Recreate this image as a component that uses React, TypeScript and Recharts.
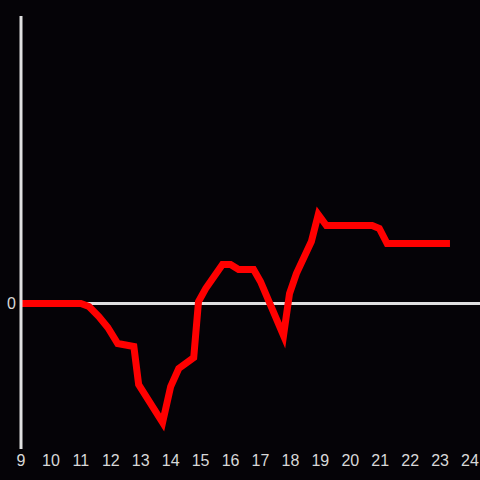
import React from 'react';
import { LineChart, Line, XAxis, YAxis, ReferenceLine } from 'recharts';

const hours = [9.0, 11.0, 11.27, 11.6, 11.9, 12.23, 12.77, 12.93, 13.73, 14.0, 14.27, 14.77, 14.93, 15.17, 15.73, 16.0, 16.27, 16.77, 17.0, 17.77, 17.97, 18.2, 18.7, 18.93, 19.2, 20.73, 20.97, 21.23, 23.33];
const values = [0, 0, -0.03, -0.13, -0.24, -0.4, -0.43, -0.81, -1.19, -0.83, -0.65, -0.54, 0.02, 0.15, 0.39, 0.39, 0.34, 0.34, 0.22, -0.32, 0.1, 0.3, 0.62, 0.89, 0.78, 0.78, 0.75, 0.6, 0.6];
const xTicks = [9, 10, 11, 12, 13, 14, 15, 16, 17, 18, 19, 20, 21, 22, 23, 24];
const yTicks = [0];

const data = hours.map((h, i) => ({ h, v: values[i] }));

const tickStyle = { fill: '#d8d8d8', fontSize: 16, fontFamily: 'Liberation Sans, Arial, sans-serif' };

export default function App() {
  return (
    <div style={{ position: 'fixed', left: 0, top: 0, width: 480, height: 480, background: '#050307' }}>
      <LineChart width={480} height={480} data={data} margin={{ top: 16, right: 0, bottom: 0, left: 0 }}>
        <XAxis
          dataKey="h"
          type="number"
          domain={[9, 9 + 460 / 30]}
          ticks={xTicks}
          axisLine={false}
          tickLine={false}
          height={31}
          tickSize={4}
          tickMargin={2}
          tick={tickStyle}
          allowDataOverflow
        />
        <YAxis
          type="number"
          domain={[-1.455, 2.875]}
          ticks={yTicks}
          width={21}
          axisLine={{ stroke: '#e0e0e0', strokeWidth: 3 }}
          tickLine={false}
          tickSize={3}
          tickMargin={2}
          tick={tickStyle}
          allowDataOverflow
        />
        <ReferenceLine y={0} stroke="#e0e0e0" strokeWidth={3} />
        <Line dataKey="v" type="linear" stroke="#ff0000" strokeWidth={7} dot={false} isAnimationActive={false} />
      </LineChart>
    </div>
  );
}
